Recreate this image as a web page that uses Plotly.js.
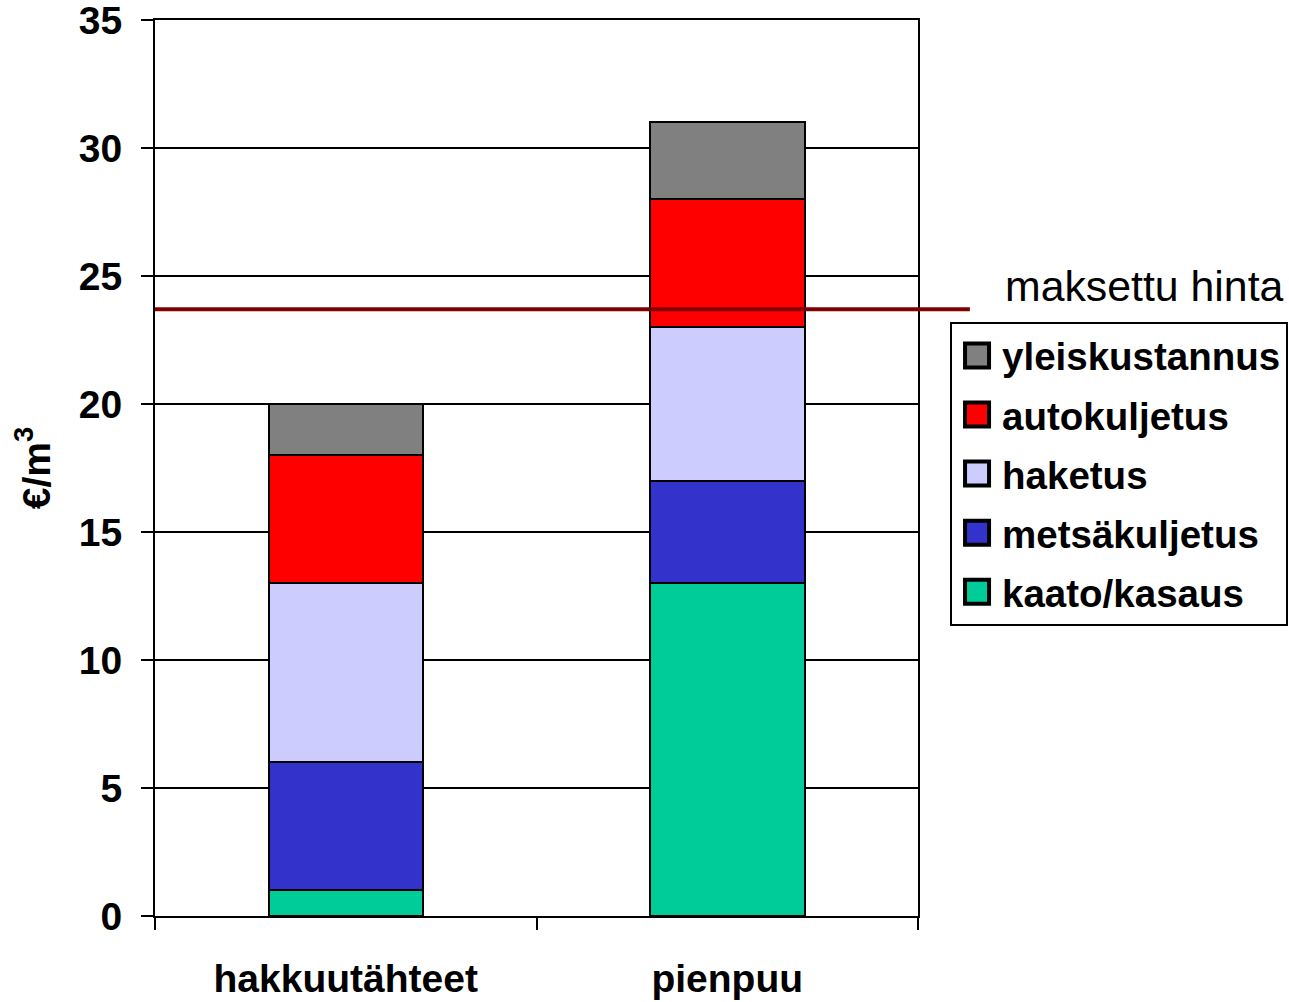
<!DOCTYPE html>
<html>
<head>
<meta charset="utf-8">
<script src="https://cdn.plot.ly/plotly-3.0.1.min.js"></script>
<style>html,body{margin:0;padding:0;background:#fff;}#chart{width:1289px;height:1002px;}</style>
</head>
<body>
<div id="chart"></div>
<script>
const categories = ["hakkuutähteet", "pienpuu"];
const seriesNames = ["kaato/kasaus", "metsäkuljetus", "haketus", "autokuljetus", "yleiskustannus"];
const kaatoKasaus = [1, 13];
const metsakuljetus = [5, 4];
const haketus = [7, 6];
const autokuljetus = [5, 5];
const yleiskustannus = [2, 3];
const seriesColors = ["#00CC99", "#3333CC", "#CCCCFF", "#FF0000", "#808080"];
const priceLevel = 23.7;
const priceLabel = "maksettu hinta";
const yAxisTitle = "€/m<sup>3</sup>";
const yTickVals = [0, 5, 10, 15, 20, 25, 30, 35];

const seriesValues = [kaatoKasaus, metsakuljetus, haketus, autokuljetus, yleiskustannus];
const FONT = "Liberation Sans, Arial, sans-serif";

const traces = seriesValues.map((vals, i) => ({
  type: "bar",
  name: seriesNames[i],
  legendgroup: "g" + (seriesValues.length - i),
  legendrank: 1000 + (seriesValues.length - i),
  x: categories,
  y: vals,
  width: 0.405,
  marker: { color: seriesColors[i], line: { color: "#000", width: 2 } },
  hoverinfo: "skip"
}));

const layout = {
  width: 1289, height: 1002,
  margin: { l: 155, r: 371, t: 20, b: 86, autoexpand: false },
  paper_bgcolor: "#fff", plot_bgcolor: "#fff",
  barmode: "stack",
  font: { family: FONT, color: "#000" },
  showlegend: true,
  legend: {
    x: 1.042, xanchor: "left", y: 0.663, yanchor: "top",
    traceorder: "grouped",
    tracegroupgap: 6,
    bgcolor: "#fff", bordercolor: "#000", borderwidth: 2,
    font: { family: FONT, size: 38.5, color: "#000", weight: "bold" },
    itemwidth: 40
  },
  xaxis: {
    type: "category",
    showgrid: false,
    showline: true, linecolor: "#000", linewidth: 2, mirror: true,
    ticks: "outside", tickson: "boundaries", ticklen: 12, tickwidth: 2, tickcolor: "#000",
    tickfont: { family: FONT, size: 39, weight: "bold" },
    ticklabelstandoff: 27,
    range: [-0.5, 1.5]
  },
  yaxis: {
    range: [0, 35],
    tickvals: yTickVals,
    ticklabeloverflow: "allow",
    showgrid: true, gridcolor: "#000", gridwidth: 1.5,
    zeroline: false,
    showline: true, linecolor: "#000", linewidth: 2, mirror: true,
    ticks: "outside", ticklen: 12, tickwidth: 2, tickcolor: "#000",
    tickfont: { family: FONT, size: 39, weight: "bold" },
    ticklabelstandoff: 11
  },
  shapes: [{
    type: "line", xref: "paper", yref: "y",
    x0: 0, x1: 1.068, y0: priceLevel, y1: priceLevel,
    line: { color: "#800000", width: 4 }
  }],
  annotations: [{
    xref: "paper", yref: "y", x: 1.482, y: priceLevel, xanchor: "right", yanchor: "bottom",
    yshift: -3,
    text: priceLabel, showarrow: false,
    font: { family: FONT, size: 42.8, color: "#000" }
  }, {
    xref: "paper", yref: "paper", x: -0.161, y: 0.5, xanchor: "center", yanchor: "middle",
    textangle: -90,
    text: yAxisTitle, showarrow: false,
    font: { family: FONT, size: 39, color: "#000", weight: "bold" }
  }]
};

Plotly.newPlot("chart", traces, layout, { staticPlot: true }).then(() => {
  document.querySelectorAll("#chart .legendpoints path").forEach(p => {
    const old = p.getAttribute("transform") || "";
    p.setAttribute("transform", old + " scale(2)");
  });
});
</script>
</body>
</html>
